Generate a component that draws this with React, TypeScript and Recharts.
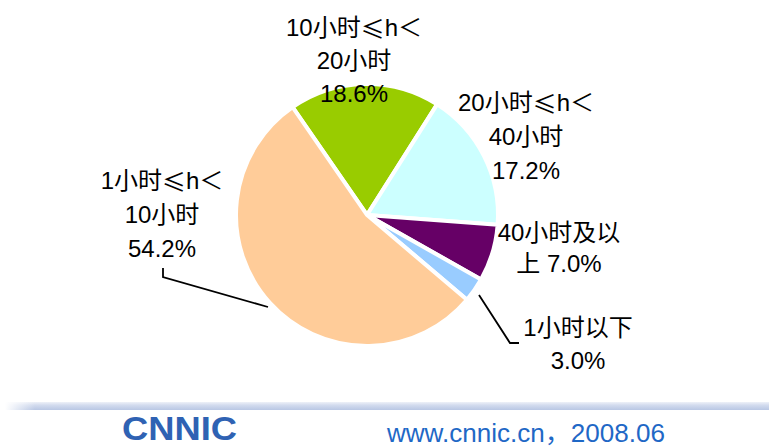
import { PieChart, Pie, Cell } from "recharts"

// Slice data (clockwise from the upper-left boundary)
const SLICE_NAMES = ["10-20", "20-40", "40+", "<1", "1-10"]
const SLICE_VALUES = [18.6, 17.2, 7.0, 3.0, 54.2]
const SLICE_LABELS = [
  ["10小时≤h＜", "20小时", "18.6%"],
  ["20小时≤h＜", "40小时", "17.2%"],
  ["40小时及以", "上 7.0%"],
  ["1小时以下", "3.0%"],
  ["1小时≤h＜", "10小时", "54.2%"],
]
const SLICE_COLORS = ["#99CC00", "#CCFFFF", "#660066", "#99CCFF", "#FFCC99"]

// label placement relative to pie centre: x offset, first line y offset, line gap
const LABEL_PLACE = [
  { dx: -13, dy: -188, gap: 33 },
  { dx: 159, dy: -113, gap: 34 },
  { dx: 192, dy: 17, gap: 31 },
  { dx: 211, dy: 112, gap: 33 },
  { dx: -205, dy: -35, gap: 34 },
]
// leader lines relative to pie centre
const LEADERS: Record<number, number[][]> = {
  3: [[112, 80], [143, 128], [152, 128]],
  4: [[-204, 53], [-204, 62], [-99, 92]],
}

const data = SLICE_NAMES.map((name, i) => ({ name, value: SLICE_VALUES[i] }))

const FONT = "'Liberation Sans', Arial, 'Noto Sans CJK SC', sans-serif"
const CJK = "'Noto Sans CJK SC', sans-serif"

// the ≤ sign is drawn wide in the original, so take it from the CJK font
function labelText(t: string) {
  const parts = t.split("≤")
  if (parts.length === 1) return t
  return (
    <>
      {parts[0]}
      <tspan fontFamily={CJK}>≤</tspan>
      {parts[1]}
    </>
  )
}

function renderLabel(props: any) {
  const { cx, cy, index } = props
  const place = LABEL_PLACE[index]
  const lines = SLICE_LABELS[index]
  const leader = LEADERS[index]
  return (
    <g key={`lbl-${index}`}>
      {leader && (
        <polyline
          points={leader.map(([x, y]) => `${cx + x},${cy + y}`).join(" ")}
          fill="none"
          stroke="#000"
          strokeWidth={1.8}
        />
      )}
      {lines.map((t, j) => (
        <text
          key={j}
          x={cx + place.dx}
          y={cy + place.dy + j * place.gap}
          textAnchor="middle"
          dominantBaseline="central"
          fontFamily={FONT}
          fontSize={24}
          fill="#000"
        >
          {labelText(t)}
        </text>
      ))}
    </g>
  )
}

export default function App() {
  return (
    <div style={{ position: "absolute", left: 0, top: 0, width: 769, height: 448, background: "#fff", overflow: "hidden" }}>
      <PieChart width={769} height={448} margin={{ top: 0, right: 0, bottom: 0, left: 0 }}>
        <Pie
          data={data}
          dataKey="value"
          cx={367}
          cy={215}
          outerRadius={131}
          startAngle={124.6}
          endAngle={124.6 - 360}
          stroke="#fff"
          strokeWidth={4}
          label={renderLabel}
          labelLine={false}
          isAnimationActive={false}
        >
          {data.map((d, i) => (
            <Cell key={d.name} fill={SLICE_COLORS[i]} />
          ))}
        </Pie>
      </PieChart>

      {/* footer */}
      <div
        style={{
          position: "absolute",
          left: 5,
          top: 402,
          width: 764,
          height: 8,
          background: "linear-gradient(to bottom, #eef1f8 0%, #d2dbee 40%, #b9c7e4 100%)",
        }}
      />
      <div
        style={{
          position: "absolute",
          left: 5,
          top: 402,
          width: 30,
          height: 8,
          background: "linear-gradient(to right, #fff 0%, rgba(255,255,255,0) 100%)",
        }}
      />
      <svg style={{ position: "absolute", left: 0, top: 0 }} width={769} height={448}>
        <text
          x={122}
          y={440}
          textLength={115}
          lengthAdjust="spacingAndGlyphs"
          fontFamily="'Liberation Sans Narrow', 'Liberation Sans', Arial, sans-serif"
          fontWeight="bold"
          fontSize={34}
          fill="#2f62b3"
        >
          CNNIC
        </text>
        <text
          x={387}
          y={442}
          textLength={278}
          lengthAdjust="spacingAndGlyphs"
          fontFamily="'Liberation Sans Narrow', 'Liberation Sans', Arial, 'Noto Sans CJK SC', sans-serif"
          fontSize={25}
          fill="#1f68c6"
        >
          www.cnnic.cn，2008.06
        </text>
      </svg>
    </div>
  )
}
